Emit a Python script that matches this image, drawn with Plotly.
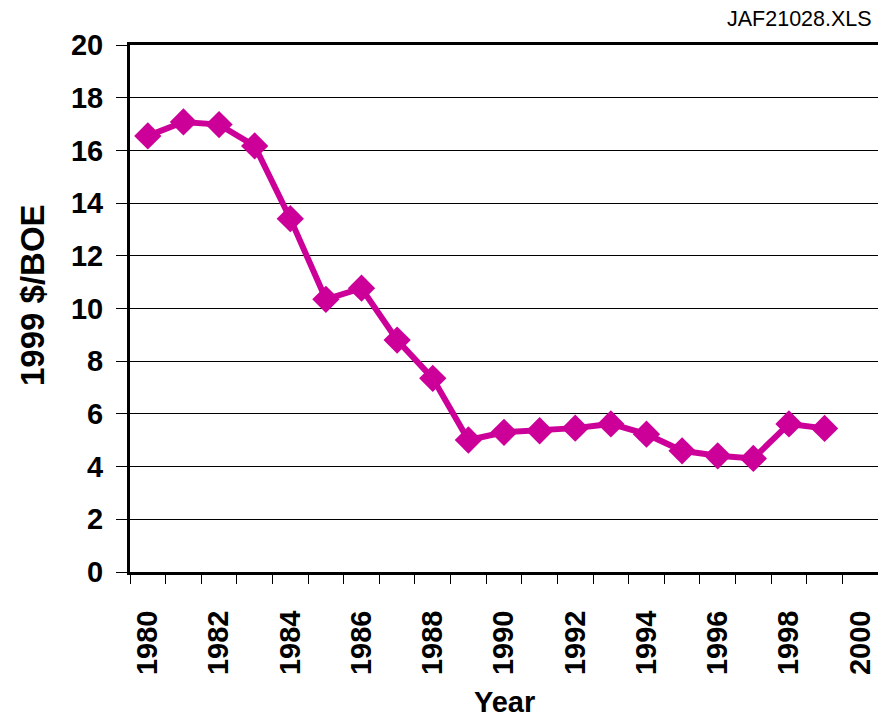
import plotly.graph_objects as go

years = list(range(1980, 2000))
values = [16.55, 17.08, 16.98, 16.17, 13.41, 10.35, 10.77, 8.80, 7.35, 5.01,
          5.30, 5.36, 5.46, 5.62, 5.23, 4.60, 4.41, 4.31, 5.62, 5.45]
x_labels = list(range(1980, 2001, 2))
y_ticks = list(range(0, 21, 2))

color = "#CC0099"
font = "Arial, Liberation Sans, sans-serif"

fig = go.Figure()
fig.add_trace(go.Scatter(
    x=years, y=values, mode="lines+markers",
    line=dict(color=color, width=6),
    marker=dict(symbol="diamond", size=21, color=color),
    cliponaxis=False,
))

fig.update_layout(
    width=878, height=709,
    margin=dict(l=122, r=8, t=37, b=145),
    paper_bgcolor="white", plot_bgcolor="white",
    showlegend=False,
    font=dict(family=font, color="black"),
)
fig.update_xaxes(
    range=[1979.5, 2000.5], automargin=False,
    tickmode="array", tickvals=x_labels, ticktext=[f"<b>{v}</b>" for v in x_labels],
    ticks="outside", ticklen=24, tickcolor="rgba(0,0,0,0)", tickangle=-90,
    tickfont=dict(size=29, family=font, color="black"),
    showgrid=False, zeroline=False,
    showline=True, linecolor="black", linewidth=3, mirror=True,
    minor=dict(tickvals=[1979.5 + i for i in range(22)], ticks="outside",
               ticklen=9, tickcolor="black", tickwidth=1, showgrid=False),
)
fig.update_yaxes(
    range=[0, 20], automargin=False,
    tickmode="array", tickvals=y_ticks, ticktext=[f"<b>{v}</b>" for v in y_ticks],
    ticks="outside", ticklen=11, tickcolor="black", tickwidth=1,
    ticklabelstandoff=7,
    tickfont=dict(size=29, family=font, color="black"),
    showgrid=True, gridcolor="black", gridwidth=1,
    zeroline=False,
    showline=True, linecolor="black", linewidth=3, mirror=True,
)

fig.add_annotation(
    text="<b>1999 $/BOE</b>", xref="paper", yref="paper", x=0, y=0.5256,
    xanchor="center", yanchor="middle", xshift=-98, textangle=-90, showarrow=False,
    font=dict(size=33, family=font, color="black"),
)
fig.add_annotation(
    text="<b>Year</b>", xref="paper", yref="paper", x=0.5, y=0,
    xanchor="center", yanchor="middle", yshift=-130, showarrow=False,
    font=dict(size=29, family=font, color="black"),
)
fig.add_annotation(
    text="JAF21028.XLS", xref="paper", yref="paper", x=1, y=1,
    xanchor="right", yanchor="bottom", yshift=12, xshift=-4, showarrow=False,
    font=dict(size=21.5, family=font, color="black"),
)

fig.write_html("out.html")
